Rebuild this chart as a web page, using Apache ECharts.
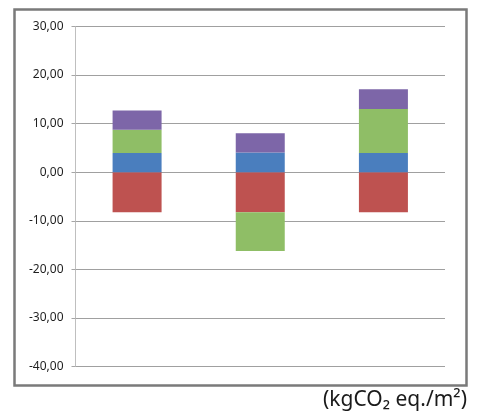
<!DOCTYPE html>
<html>
<head>
<meta charset="utf-8">
<script src="https://cdn.jsdelivr.net/npm/echarts@6/dist/echarts.min.js"></script>
<style>html,body{margin:0;padding:0;background:#fff;}#c{width:484px;height:416px;}</style>
</head>
<body>
<div id="c"></div>
<script>
var categories = ['A', 'B', 'C'];
var redValues = [-8.25, -8.25, -8.25];
var blueValues = [3.95, 4.05, 3.95];
var greenValues = [4.8, -7.95, 9.05];
var purpleValues = [3.95, 3.95, 4.1];
var yTicks = [-40, -30, -20, -10, 0, 10, 20, 30];
var unitLabel = '(kgCO\u2082 eq./m\u00b2)';

var chart = echarts.init(document.getElementById('c'));
function s(name, data, color) {
  return { name: name, type: 'bar', stack: 'total', data: data, barWidth: 49,
    itemStyle: { color: color }, animation: false };
}
chart.setOption({
  animation: false,
  grid: { left: 75.5, right: 39, top: 26.5, bottom: 49.5 },
  xAxis: { type: 'category', data: categories, axisLabel: { show: false },
    axisTick: { show: false }, axisLine: { show: false } },
  yAxis: { type: 'value', min: yTicks[0], max: yTicks[yTicks.length - 1], interval: 10,
    axisLine: { show: true, lineStyle: { color: '#BFBFBF', width: 1 } },
    axisTick: { show: true, length: 4, lineStyle: { color: '#A6A6A6' } },
    splitLine: { lineStyle: { color: '#A0A0A0', width: 1 } },
    axisLabel: { margin: 12, color: '#1f1f1f', fontFamily: 'Noto Sans', fontSize: 12,
      formatter: function (v) { return v.toFixed(2).replace('.', ','); } } },
  series: [
    s('red', redValues, '#BE5250'),
    s('blue', blueValues, '#4A7EBE'),
    s('green', greenValues, '#8FBE66'),
    s('purple', purpleValues, '#7D66A8')
  ],
  graphic: [
    { type: 'rect', shape: { x: 14.5, y: 9.5, width: 452, height: 376 },
      style: { fill: 'none', stroke: '#7A7A7A', lineWidth: 2.5 }, silent: true },
    { type: 'text', right: 17, top: 390,
      style: { text: unitLabel, font: '21px "Noto Sans"', fill: '#1a1a1a' } }
  ]
});
</script>
</body>
</html>
